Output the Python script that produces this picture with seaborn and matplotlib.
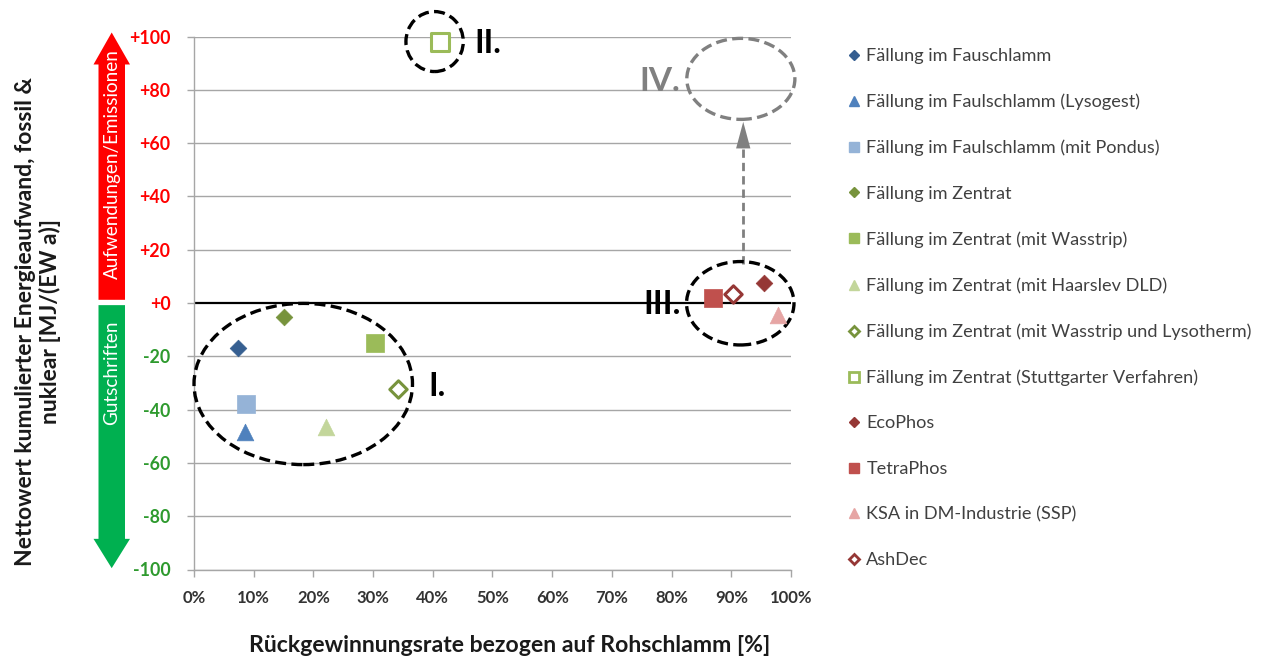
import matplotlib
matplotlib.use("Agg")
import matplotlib.pyplot as plt
import matplotlib.transforms as mtransforms
from matplotlib.patches import Ellipse, Polygon
from matplotlib.lines import Line2D
import seaborn as sns

# ---------------- data ----------------
labels = [
    "Fällung im Fauschlamm",
    "Fällung im Faulschlamm (Lysogest)",
    "Fällung im Faulschlamm (mit Pondus)",
    "Fällung im Zentrat",
    "Fällung im Zentrat (mit Wasstrip)",
    "Fällung im Zentrat (mit Haarslev DLD)",
    "Fällung im Zentrat (mit Wasstrip und Lysotherm)",
    "Fällung im Zentrat (Stuttgarter Verfahren)",
    "EcoPhos",
    "TetraPhos",
    "KSA in DM-Industrie (SSP)",
    "AshDec",
]
recovery = [7.4, 8.5, 8.7, 15.1, 30.3, 22.1, 34.1, 41.2, 95.4, 87.0, 97.9, 90.3]
energy = [-16.8, -48.5, -37.9, -5.1, -15.1, -46.4, -32.4, 97.8, 7.4, 1.8, -4.5, 3.4]
colors = ["#365F91", "#4F81BD", "#95B3D7", "#77933C", "#9BBB59", "#C3D69B",
          "#77933C", "#9BBB59", "#953735", "#C0504D", "#E6A5A4", "#953735"]
markers = ["D", "^", "s", "D", "s", "^", "D", "s", "D", "s", "^", "D"]
filled = [True, True, True, True, True, True, False, False, True, True, True, False]

y_ticks = [-100, -80, -60, -40, -20, 0, 20, 40, 60, 80, 100]
x_ticks = [0, 10, 20, 30, 40, 50, 60, 70, 80, 90, 100]

# ---------------- style ----------------
sns.set_theme(style="white")
plt.rcParams["font.family"] = ["Lato", "DejaVu Sans"]

W, H = 1265, 657
fig = plt.figure(figsize=(W / 100, H / 100), dpi=100)
ax = fig.add_axes([194 / W, 1 - 569.5 / H, (791 - 194) / W, (569.5 - 36.5) / H])

size_map = {"D": 72, "s": 150, "^": 144}
open_size = {"D": 78, "s": 150, "^": 144}
for lab, xv, yv, c, m, f in zip(labels, recovery, energy, colors, markers, filled):
    if f:
        sns.scatterplot(x=[xv], y=[yv], marker=m, s=size_map[m], color=c,
                        edgecolor=c, linewidth=0.5, ax=ax, zorder=5, clip_on=False)
    else:
        sns.scatterplot(x=[xv], y=[yv], marker=m, s=open_size[m], color="white",
                        edgecolor=c, linewidth=2.2, ax=ax, zorder=5, clip_on=False)

ax.set_xlim(0, 100)
ax.set_ylim(-100, 100)
ax.set_xticks(x_ticks)
ax.set_yticks(y_ticks)
ax.set_xticklabels([f"{t}%" for t in x_ticks], fontsize=12, fontweight="bold", color="#333333")
ylabs = [("+" + str(t)) if t >= 0 else str(t) for t in y_ticks]
ax.set_yticklabels(ylabs, fontsize=12.8, fontweight="bold")
for lbl, t in zip(ax.get_yticklabels(), y_ticks):
    lbl.set_color("#FF0000" if t >= 0 else "#2E9A2E")
ax.tick_params(axis="both", which="major", direction="out", length=5, width=1,
               color="#A6A6A6", left=True, bottom=True)
ax.tick_params(axis="y", pad=12)
ax.tick_params(axis="x", pad=10)
ax.set_xlabel("")
ax.set_ylabel("")

for t in y_ticks:
    if t != 0:
        ax.axhline(t, color="#A6A6A6", lw=1.0, zorder=1)
ax.axhline(0, color="black", lw=1.6, zorder=2)
for s in ["top", "right"]:
    ax.spines[s].set_visible(False)
for s in ["left", "bottom"]:
    ax.spines[s].set_color("#A6A6A6")
    ax.spines[s].set_linewidth(1.0)

# ---------------- cluster ellipses ----------------
dash = (0, (3.3, 1.6))
ell_specs = [  # (cx, cy, w, h, color)
    (18.3, -30.4, 36.6, 60.5, "black"),
    (40.3, 98.1, 9.6, 22.5, "black"),
    (91.5, -0.1, 18.0, 31.3, "black"),
    (91.6, 84.1, 18.1, 30.4, "#808080"),
]
for cx, cy, w, h, c in ell_specs:
    ax.add_patch(Ellipse((cx, cy), w, h, fill=False, edgecolor=c, lw=2.4,
                         linestyle=dash, zorder=4, clip_on=False))

ax.text(39.3, -31.5, "I.", fontsize=23, fontweight="bold", color="black",
        ha="left", va="center", zorder=6)
ax.text(47.0, 97.3, "II.", fontsize=23, fontweight="bold", color="black",
        ha="left", va="center", zorder=6)
ax.text(81.5, -0.5, "III.", fontsize=24, fontweight="bold", color="black",
        ha="right", va="center", zorder=6)
ax.text(81.4, 83.3, "IV.", fontsize=24, fontweight="bold", color="#808080",
        ha="right", va="center", zorder=6)

# dashed arrow from III to IV
ax.plot([92.0, 92.0], [14.5, 60], color="#808080", lw=2.0, linestyle=(0, (3, 1.8)),
        zorder=3)
ax.add_patch(Polygon([[90.8, 58], [93.2, 58], [92.0, 68]], closed=True,
                     facecolor="#808080", edgecolor="none", zorder=3))

# ---------------- side arrows ----------------
tr = mtransforms.blended_transform_factory(fig.transFigure, ax.transData)
def fx(px):
    return px / W
red = [[fx(98.5), 1.2], [fx(98.5), 89.5], [fx(93.5), 89.5], [fx(111.7), 101.5],
       [fx(130), 89.5], [fx(125), 89.5], [fx(125), 1.2]]
green = [[fx(98.5), -0.8], [fx(98.5), -88.5], [fx(93.5), -88.5], [fx(111.7), -99.5],
         [fx(130), -88.5], [fx(125), -88.5], [fx(125), -0.8]]
ax.add_patch(Polygon(red, closed=True, facecolor="#FF0000", edgecolor="none",
                     transform=tr, clip_on=False))
ax.add_patch(Polygon(green, closed=True, facecolor="#00B050", edgecolor="none",
                     transform=tr, clip_on=False))
ax.text(fx(112), 52, "Aufwendungen/Emissionen", transform=tr, rotation=90,
        color="white", fontsize=13.6, ha="center", va="center")
ax.text(fx(112), -26, "Gutschriften", transform=tr, rotation=90,
        color="white", fontsize=13.6, ha="center", va="center")

# ---------------- axis titles ----------------
fig.text(510 / W, 1 - 645 / H, "Rückgewinnungsrate bezogen auf Rohschlamm [%]",
         fontsize=16.6, fontweight="bold", color="#1a1a1a", ha="center", va="center")
fig.text(38 / W, 1 - 321 / H,
         "Nettowert kumulierter Energieaufwand, fossil &\nnuklear [MJ/(EW a)]",
         fontsize=16.5, fontweight="bold", color="#1a1a1a", ha="center", va="center",
         rotation=90, multialignment="center", linespacing=1.2)

# ---------------- legend ----------------
leg_size = {"D": 5.0, "s": 7.0, "^": 7.0}
handles = []
for lab, c, m, f in zip(labels, colors, markers, filled):
    if f:
        h = Line2D([], [], linestyle="none", marker=m, markersize=leg_size[m],
                   markerfacecolor=c, markeredgecolor=c)
    else:
        h = Line2D([], [], linestyle="none", marker=m, markersize=leg_size[m],
                   markerfacecolor="white", markeredgecolor=c, markeredgewidth=2)
    handles.append(h)
fig.legend(handles, labels, loc="upper left", bbox_to_anchor=(840 / W, 1 - 41 / H),
           frameon=False, fontsize=13.1, labelspacing=1.62, handlelength=0.7,
           handletextpad=0.35, borderaxespad=0, labelcolor="#404040")

fig.savefig("out.png", dpi=100)
